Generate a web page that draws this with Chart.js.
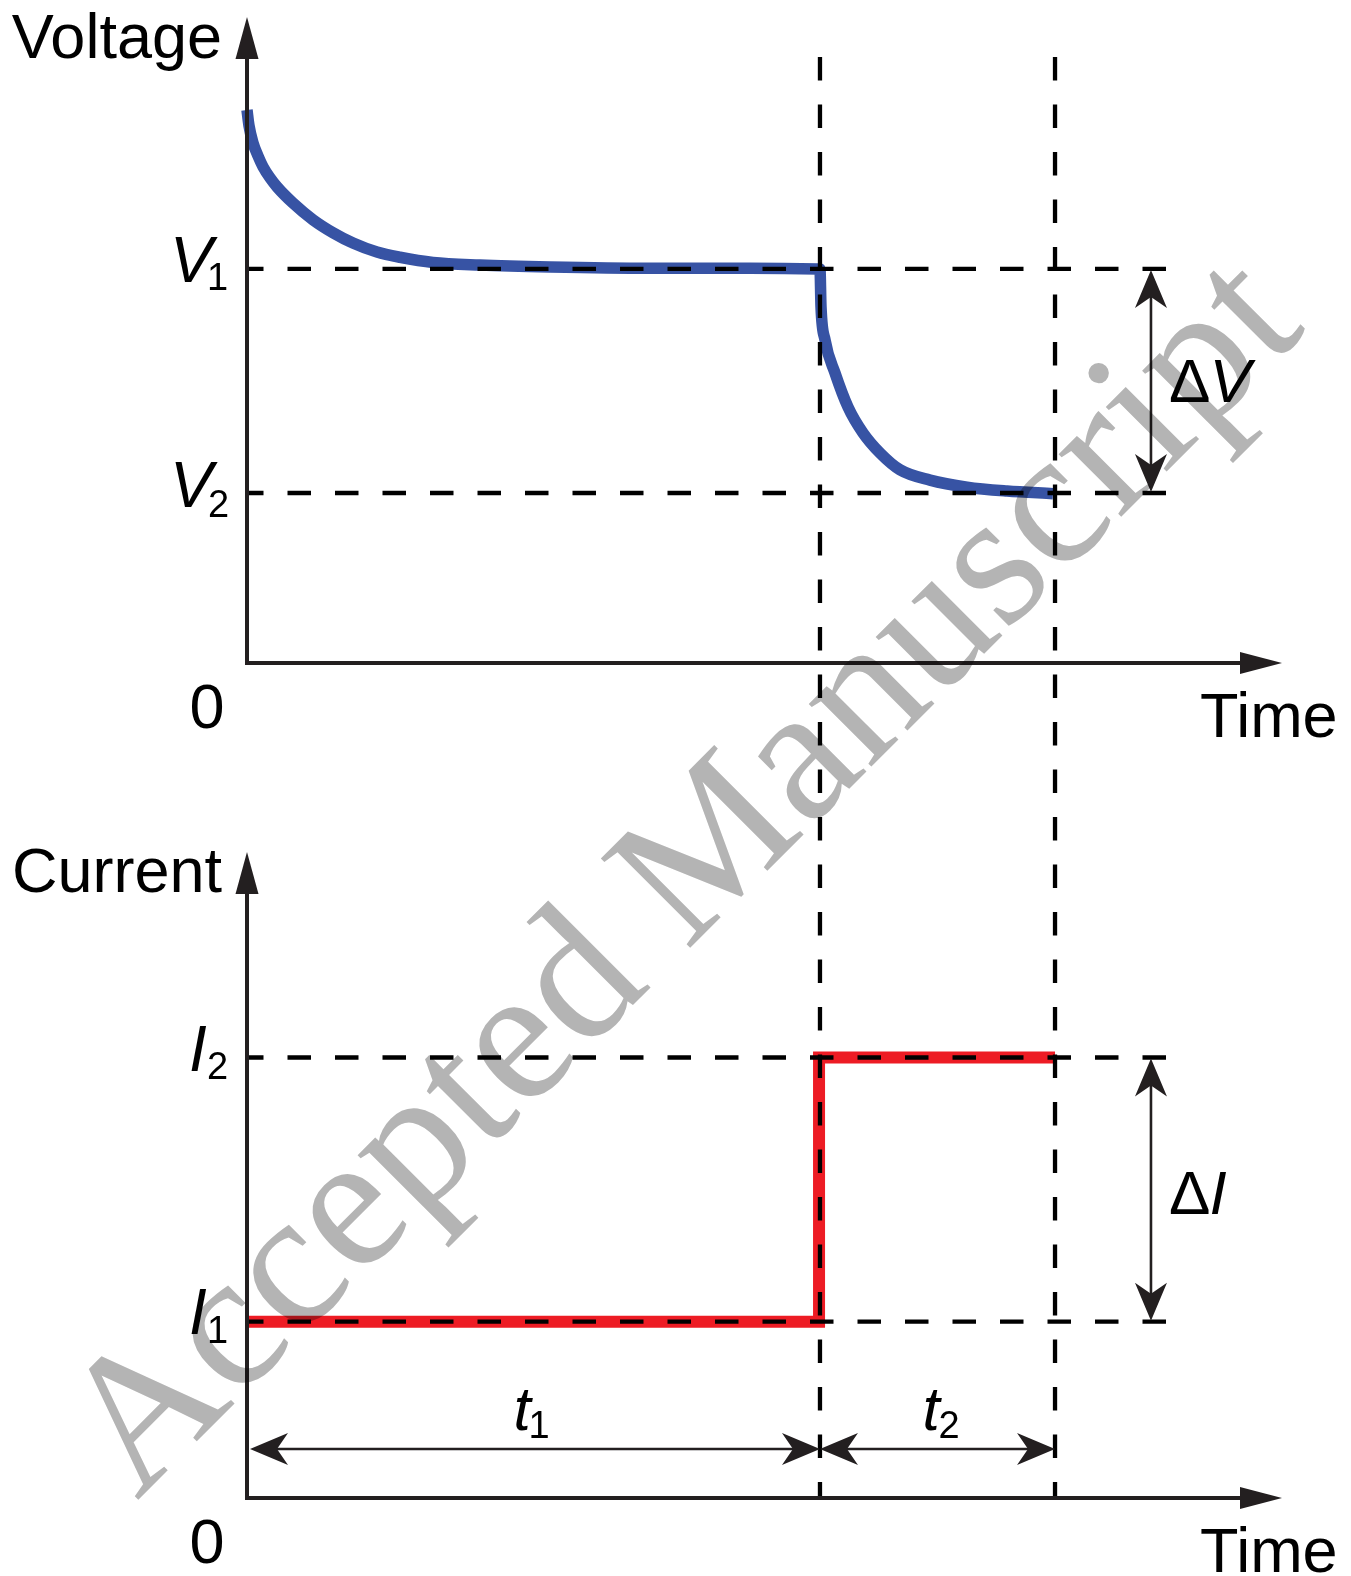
<!DOCTYPE html>
<html><head><meta charset="utf-8">
<script src="https://cdn.jsdelivr.net/npm/chart.js@4.4.1/dist/chart.umd.min.js"></script>
<style>html,body{margin:0;padding:0;background:#fff}canvas{display:block}</style>
</head><body>
<canvas id="c" width="1351" height="1576"></canvas>
<script>
// ---- data (time axis in arbitrary units: 0..100 is the full length of the time axis) ----
const voltageTime   = [0, 0.19, 0.58, 1.06, 1.55, 2.22, 2.90, 4.44, 6.38, 8.31, 10.24, 12.56, 14.78, 17.97, 22.5, 29.3, 38.9, 48.6, 55.2, 55.36, 55.46, 55.85, 56.81, 58.07, 59.52, 61.16, 63.09, 65.99, 69.57, 73.43, 77.87];
const voltageValues = [8.56, 8.32, 8.05, 7.85, 7.68, 7.51, 7.37, 7.12, 6.86, 6.66, 6.50, 6.36, 6.28, 6.20, 6.16, 6.13, 6.11, 6.11, 6.10, 6.10, 5.51, 5.00, 4.49, 3.96, 3.56, 3.25, 2.99, 2.83, 2.72, 2.66, 2.62];
const currentTime   = [0, 55.27, 55.27, 78.07];
const currentValues = [2.73, 2.73, 6.82, 6.82];
const levelValues   = {V1: 6.10, V2: 2.63, I1: 2.73, I2: 6.82};
const timeMarks     = [0, 55.36, 78.07];     // 0, end of t1, end of t2
const refLineEnd    = 89.0;                  // end of horizontal reference lines
const deltaX        = 87.34;                 // position of ΔV / ΔI arrows
const guideTop      = 9.38;                  // top of vertical guides (voltage units)
const axisTitles    = ['Voltage', 'Current'];
const timeTitle     = 'Time';
const zeroLabel     = '0';
const levelLabels   = [['V','1'], ['V','2'], ['I','2'], ['I','1']];
const deltaLabels   = [['Δ','V'], ['Δ','I']];
const spanLabels    = [['t','1'], ['t','2']];
const watermark     = 'Accepted Manuscript';

const INK = '#231f20';
const SANS = '"Liberation Sans", Arial, Helvetica, sans-serif';

function head(ctx, tx, ty, dx, dy, len, half, notch) {
  const bx = tx - dx * len, by = ty - dy * len, nx = -dy, ny = dx;
  ctx.beginPath();
  ctx.moveTo(tx, ty);
  ctx.lineTo(bx + nx * half, by + ny * half);
  ctx.lineTo(tx - dx * notch, ty - dy * notch);
  ctx.lineTo(bx - nx * half, by - ny * half);
  ctx.closePath();
  ctx.fill();
}
function dimArrow(ctx, x1, y1, x2, y2) {
  const L = Math.hypot(x2 - x1, y2 - y1), dx = (x2 - x1) / L, dy = (y2 - y1) / L;
  ctx.save();
  ctx.strokeStyle = INK; ctx.fillStyle = INK; ctx.lineWidth = 2.6; ctx.setLineDash([]);
  ctx.beginPath(); ctx.moveTo(x1 + dx * 20, y1 + dy * 20); ctx.lineTo(x2 - dx * 20, y2 - dy * 20); ctx.stroke();
  head(ctx, x2, y2, dx, dy, 38, 16, 27);
  head(ctx, x1, y1, -dx, -dy, 38, 16, 27);
  ctx.restore();
}
function axes(ctx, x0, y0, yTip, xTip) {
  ctx.save();
  ctx.strokeStyle = INK; ctx.fillStyle = INK; ctx.lineWidth = 4; ctx.lineJoin = 'miter'; ctx.setLineDash([]);
  ctx.beginPath(); ctx.moveTo(x0, yTip + 40); ctx.lineTo(x0, y0); ctx.lineTo(xTip - 40, y0); ctx.stroke();
  head(ctx, x0, yTip, 0, -1, 42, 11.5, 42);
  head(ctx, xTip, y0, 1, 0, 42, 11, 42);
  ctx.restore();
}
function dashed(ctx, x1, y1, x2, y2, offset) {
  ctx.save();
  ctx.strokeStyle = '#000'; ctx.lineWidth = 4.3; ctx.setLineDash([23.5, 24]); ctx.lineDashOffset = offset;
  ctx.beginPath(); ctx.moveTo(x1, y1); ctx.lineTo(x2, y2); ctx.stroke();
  ctx.restore();
}
function subLabel(ctx, parts, x, y, sx, sy, mainFont, subFont) {
  ctx.save(); ctx.fillStyle = '#000'; ctx.textAlign = 'left'; ctx.textBaseline = 'alphabetic';
  ctx.font = mainFont; ctx.fillText(parts[0], x, y);
  ctx.font = subFont; ctx.fillText(parts[1], sx, sy);
  ctx.restore();
}

const diagram = {
  id: 'diagram',
  afterDatasetsDraw(chart) {
    const ctx = chart.ctx, X = chart.scales.x, YV = chart.scales.yV, YI = chart.scales.yI;
    const ax = X.getPixelForValue(0), xTip = X.getPixelForValue(100);
    const xs = X.getPixelForValue(timeMarks[1]), xe = X.getPixelForValue(timeMarks[2]);
    const xr = X.getPixelForValue(refLineEnd), xd = X.getPixelForValue(deltaX);
    const v0 = YV.getPixelForValue(0), vTip = YV.getPixelForValue(10);
    const i0 = YI.getPixelForValue(0), iTip = YI.getPixelForValue(10);
    const pV1 = YV.getPixelForValue(levelValues.V1), pV2 = YV.getPixelForValue(levelValues.V2);
    const pI1 = YI.getPixelForValue(levelValues.I1), pI2 = YI.getPixelForValue(levelValues.I2);
    const gTop = YV.getPixelForValue(guideTop);

    // reference lines
    [pV1, pV2, pI1, pI2].forEach(p => dashed(ctx, ax, p, xr, p, 7));
    dashed(ctx, xs, gTop, xs, i0, 0);
    dashed(ctx, xe, gTop, xe, i0, 0);

    // axes
    axes(ctx, ax, v0, vTip, xTip);
    axes(ctx, ax, i0, iTip, xTip);

    // dimension arrows
    dimArrow(ctx, xd, pV1 + 1, xd, pV2 - 1);
    dimArrow(ctx, xd, pI2 + 1, xd, pI1 - 1);
    const ty = i0 - 49;
    dimArrow(ctx, ax + 3, ty, xs, ty);
    dimArrow(ctx, xs, ty, xe, ty);

    // texts
    ctx.save();
    ctx.fillStyle = '#000'; ctx.textBaseline = 'alphabetic';
    ctx.font = '63px ' + SANS;
    ctx.textAlign = 'right';
    ctx.fillText(axisTitles[0], ax - 25, vTip + 41);
    ctx.fillText(axisTitles[1], ax - 25, iTip + 40);
    ctx.textAlign = 'center';
    ctx.fillText(zeroLabel, ax - 40, v0 + 65);
    ctx.fillText(zeroLabel, ax - 40, i0 + 65);
    ctx.textAlign = 'left';
    ctx.fillText(timeTitle, xTip - 82, v0 + 74);
    ctx.fillText(timeTitle, xTip - 82, i0 + 74);
    ctx.restore();

    const mainIt = 'italic 64px ' + SANS, sub = '38px ' + SANS;
    subLabel(ctx, levelLabels[0], ax - 77, pV1 + 13, ax - 40, pV1 + 21, mainIt, sub);
    subLabel(ctx, levelLabels[1], ax - 77, pV2 + 14, ax - 39, pV2 + 24, mainIt, sub);
    subLabel(ctx, levelLabels[2], ax - 58, pI2 + 13, ax - 40, pI2 + 21, mainIt, sub);
    subLabel(ctx, levelLabels[3], ax - 58, pI1 + 12, ax - 40, pI1 + 21, mainIt, sub);

    // ΔV, ΔI
    ctx.save();
    ctx.fillStyle = '#000'; ctx.textAlign = 'left'; ctx.textBaseline = 'alphabetic';
    [[deltaLabels[0], (pV1 + pV2) / 2 + 21], [deltaLabels[1], (pI1 + pI2) / 2 + 24]].forEach(([lab, by]) => {
      ctx.font = '62px ' + SANS;
      const w = ctx.measureText(lab[0]).width;
      ctx.fillText(lab[0], xd + 18, by);
      ctx.font = 'italic 62px ' + SANS;
      ctx.fillText(lab[1], xd + 18 + w - 1, by);
    });
    ctx.restore();

    // t1, t2
    const m1 = (ax + xs) / 2, m2 = (xs + xe) / 2;
    subLabel(ctx, spanLabels[0], m1 - 20, ty - 19, m1 - 5, ty - 11, 'italic 62px ' + SANS, sub);
    subLabel(ctx, spanLabels[1], m2 - 15, ty - 19, m2 + 1, ty - 11, 'italic 62px ' + SANS, sub);
  },
  afterDraw(chart) {
    const ctx = chart.ctx;
    ctx.save();
    ctx.globalCompositeOperation = 'multiply';
    ctx.fillStyle = 'rgb(180,180,180)';
    ctx.font = '193px "Liberation Serif", "Times New Roman", serif';
    ctx.textAlign = 'left'; ctx.textBaseline = 'alphabetic';
    ctx.translate(137, 1501);
    ctx.rotate(-Math.PI / 4);
    ctx.fillText(watermark, 0, 0);
    ctx.restore();
  }
};

new Chart(document.getElementById('c'), {
  type: 'line',
  data: {
    datasets: [
      { data: voltageTime.map((t, i) => ({x: t, y: voltageValues[i]})), yAxisID: 'yV',
        borderColor: 'rgb(55,83,164)', borderWidth: 11.5, pointRadius: 0, fill: false,
        cubicInterpolationMode: 'monotone', clip: false, borderCapStyle: 'butt', borderJoinStyle: 'round' },
      { data: currentTime.map((t, i) => ({x: t, y: currentValues[i]})), yAxisID: 'yI',
        borderColor: 'rgb(237,28,36)', borderWidth: 12, pointRadius: 0, fill: false,
        tension: 0, clip: false, borderCapStyle: 'butt', borderJoinStyle: 'miter' }
    ]
  },
  options: {
    responsive: false, animation: false, devicePixelRatio: 1, events: [],
    layout: {padding: {left: 247, right: 69, top: 17, bottom: 78}},
    plugins: {legend: {display: false}, tooltip: {enabled: false}},
    scales: {
      x:  {type: 'linear', min: 0, max: 100, display: false},
      yV: {type: 'linear', min: -12.93, max: 10, display: false},
      yI: {type: 'linear', min: 0, max: 22.93, display: false}
    }
  },
  plugins: [diagram]
});
</script>
</body></html>
